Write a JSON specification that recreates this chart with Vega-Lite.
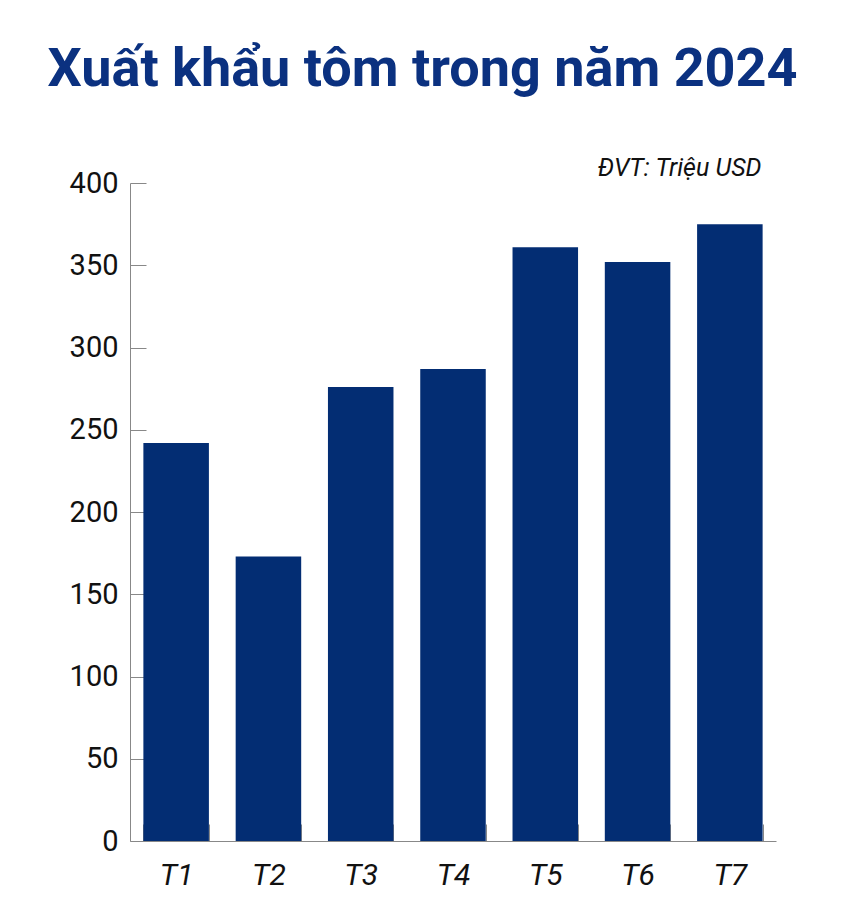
{
  "$schema": "https://vega.github.io/schema/vega-lite/v6.json",
  "width": 646,
  "height": 658,
  "autosize": "none",
  "padding": {"left": 130, "top": 183, "right": 74, "bottom": 66},
  "background": "white",
  "config": {"view": {"stroke": null}},
  "title": {
    "text": "Xuất khẩu tôm trong năm 2024",
    "font": "Roboto",
    "fontSize": 54,
    "fontWeight": "bold",
    "color": "#0b3180",
    "anchor": "middle",
    "frame": "bounds",
    "offset": 58
  },
  "data": {
    "values": [
      {"thang": "T1", "gia_tri": 242},
      {"thang": "T2", "gia_tri": 173},
      {"thang": "T3", "gia_tri": 276},
      {"thang": "T4", "gia_tri": 287},
      {"thang": "T5", "gia_tri": 361},
      {"thang": "T6", "gia_tri": 352},
      {"thang": "T7", "gia_tri": 375}
    ]
  },
  "mark": {"type": "bar", "color": "#032d73"},
  "encoding": {
    "x": {
      "field": "thang",
      "type": "nominal",
      "sort": null,
      "scale": {"paddingInner": 0.29, "paddingOuter": 0.145},
      "axis": {
        "title": null,
        "labelAngle": 0,
        "labelFont": "Roboto",
        "labelFontStyle": "italic",
        "labelFontSize": 30,
        "labelFontWeight": "normal",
        "labelColor": "#111111",
        "labelPadding": 36,
        "tickBand": "extent",
        "tickSize": -17,
        "tickColor": "#888888",
        "domainColor": "#888888",
        "grid": false
      }
    },
    "y": {
      "field": "gia_tri",
      "type": "quantitative",
      "scale": {"domain": [0, 400], "nice": false},
      "axis": {
        "values": [0, 50, 100, 150, 200, 250, 300, 350, 400],
        "title": "ĐVT: Triệu USD",
        "titleAngle": 0,
        "titleAlign": "right",
        "titleBaseline": "alphabetic",
        "titleX": 631,
        "titleY": -8,
        "titleFont": "Roboto",
        "titleFontSize": 25,
        "titleFontStyle": "italic",
        "titleFontWeight": "normal",
        "titleColor": "#111111",
        "labelFont": "Roboto",
        "labelFontSize": 29,
        "labelFontWeight": "normal",
        "labelColor": "#111111",
        "labelPadding": 28,
        "tickSize": -16,
        "tickColor": "#888888",
        "domainColor": "#888888",
        "grid": false
      }
    }
  }
}
